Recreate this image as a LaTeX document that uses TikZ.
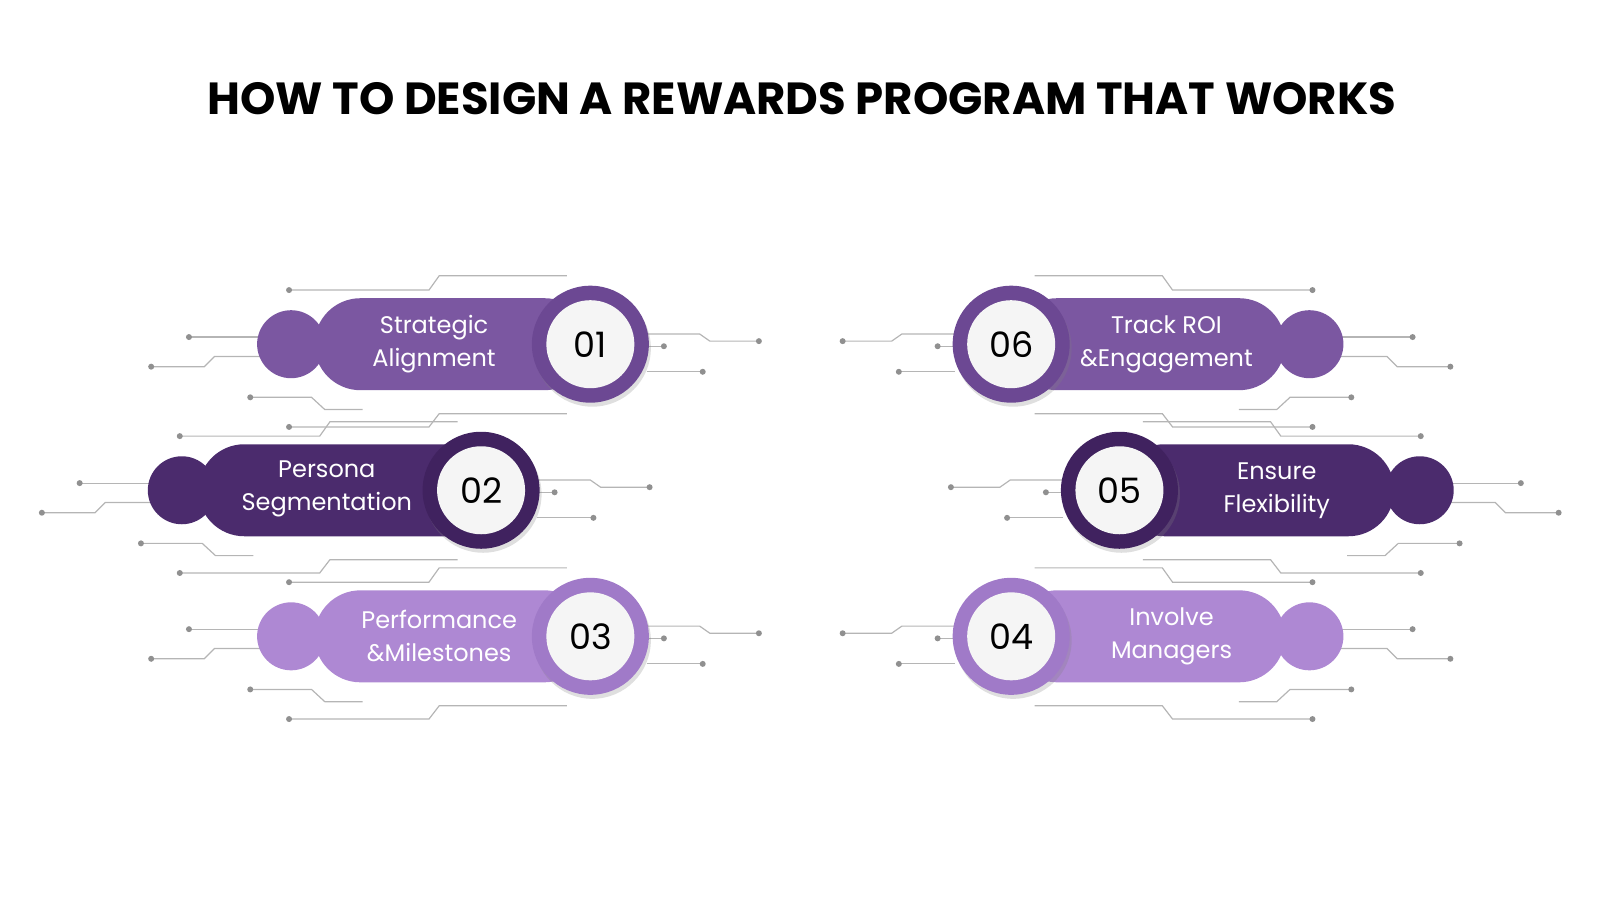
\documentclass[tikz,border=0pt]{standalone}
\usepackage{fontspec}
\setmainfont{Poppins}
\usetikzlibrary{shadows}
\definecolor{cA}{HTML}{7B57A1}\definecolor{rA}{HTML}{6C4893}
\definecolor{cB}{HTML}{4B2B6D}\definecolor{rB}{HTML}{40225F}
\definecolor{cC}{HTML}{AE88D3}\definecolor{rC}{HTML}{A07AC8}
\definecolor{ln}{HTML}{B5B5B5}\definecolor{dt}{HTML}{909090}
\tikzset{
 gl/.style={draw=ln,line width=0.6pt},
 dotn/.style={circle,fill=dt,inner sep=0pt,minimum size=3pt},
 bar/.style={rounded corners=23pt,minimum height=46pt,inner sep=0pt},
 knob/.style={circle,minimum size=34pt,inner sep=0pt},
 ring/.style={circle,minimum size=58.5pt,inner sep=0pt,drop shadow={opacity=0.25,shadow xshift=1pt,shadow yshift=-2pt}},
 face/.style={circle,fill=white!96!black,minimum size=44pt,inner sep=0pt,font=\fontsize{17.5}{20}\selectfont},
 lbl/.style={text=white,align=center,font=\fontsize{12}{16.5}\selectfont},
}
\newcommand{\decolines}[3]{%
 \draw[gl] ({#1+#3*(-295)},{#2-53}) node[dotn]{} -- ({#1+#3*(-158)},{#2-53}) -- ({#1+#3*(-148)},{#2-67}) -- ({#1+#3*(-23)},{#2-67});
 \draw[gl] ({#1+#3*(-295)},{#2+81}) node[dotn]{} -- ({#1+#3*(-158)},{#2+81}) -- ({#1+#3*(-148)},{#2+68}) -- ({#1+#3*(-23)},{#2+68});
 \draw[gl] ({#1+#3*(-393)},{#2-7}) node[dotn]{} -- ({#1+#3*(-323)},{#2-7});
 \draw[gl] ({#1+#3*(-430)},{#2+22}) node[dotn]{} -- ({#1+#3*(-378)},{#2+22}) -- ({#1+#3*(-368)},{#2+12}) -- ({#1+#3*(-323)},{#2+12});
 \draw[gl] ({#1+#3*(-333)},{#2+52}) node[dotn]{} -- ({#1+#3*(-273)},{#2+52}) -- ({#1+#3*(-260)},{#2+64}) -- ({#1+#3*(-223)},{#2+64});
 \draw[gl] ({#1+#3*(55)},{#2-10}) -- ({#1+#3*(107)},{#2-10}) -- ({#1+#3*(117)},{#2-3}) -- ({#1+#3*(165)},{#2-3}) node[dotn]{};
 \draw[gl] ({#1+#3*(55)},{#2+2}) -- ({#1+#3*(72)},{#2+2}) node[dotn]{};
 \draw[gl] ({#1+#3*(55)},{#2+27}) -- ({#1+#3*(110)},{#2+27}) node[dotn]{};
}
\begin{document}
\begin{tikzpicture}[x=0.5107pt,y=-0.5107pt]
\useasboundingbox (0,0) rectangle (1566.5,881.2);
\node (title) at (785,97) {\fontsize{22.5}{26}\selectfont\bfseries HOW TO DESIGN A REWARDS PROGRAM THAT WORKS};
\decolines{578}{337}{1}
\decolines{471}{480}{1}
\decolines{578}{623}{1}
\decolines{990}{337}{-1}
\decolines{1096}{480}{-1}
\decolines{990}{623}{-1}
% item 01
\node[knob,fill=cA] (k1) at (285,337) {};
\node[bar,fill=cA,minimum width=138pt] (b1) at (443,337) {};
\node[ring,fill=rA] (r1) at (578,337) {};
\node[face] (f1) at (578,337) {01};
\node[lbl] (t1) at (425,337) {Strategic\\Alignment};
% item 02
\node[knob,fill=cB] (k2) at (178,480) {};
\node[bar,fill=cB,minimum width=151pt] (b2) at (342,480) {};
\node[ring,fill=rB] (r2) at (471,480) {};
\node[face] (f2) at (471,480) {02};
\node[lbl] (t2) at (320,479) {Persona\\Segmentation};
% item 03
\node[knob,fill=cC] (k3) at (285,623) {};
\node[bar,fill=cC,minimum width=138pt] (b3) at (443,623) {};
\node[ring,fill=rC] (r3) at (578,623) {};
\node[face] (f3) at (578,623) {03};
\node[lbl] (t3) at (430,623) {Performance\\\&Milestones};
% item 06
\node[knob,fill=cA] (k6) at (1282,337) {};
\node[bar,fill=cA,minimum width=137pt] (b6) at (1124,337) {};
\node[ring,fill=rA] (r6) at (990,337) {};
\node[face] (f6) at (990,337) {06};
\node[lbl] (t6) at (1142,337) {Track ROI\\\&Engagement};
% item 05
\node[knob,fill=cB] (k5) at (1390,480) {};
\node[bar,fill=cB,minimum width=138pt] (b5) at (1230,480) {};
\node[ring,fill=rB] (r5) at (1096,480) {};
\node[face] (f5) at (1096,480) {05};
\node[lbl] (t5) at (1250,480) {Ensure\\Flexibility};
% item 04
\node[knob,fill=cC] (k4) at (1282,623) {};
\node[bar,fill=cC,minimum width=137pt] (b4) at (1124,623) {};
\node[ring,fill=rC] (r4) at (990,623) {};
\node[face] (f4) at (990,623) {04};
\node[lbl] (t4) at (1147,623) {Involve\\Managers};
\end{tikzpicture}
\end{document}
